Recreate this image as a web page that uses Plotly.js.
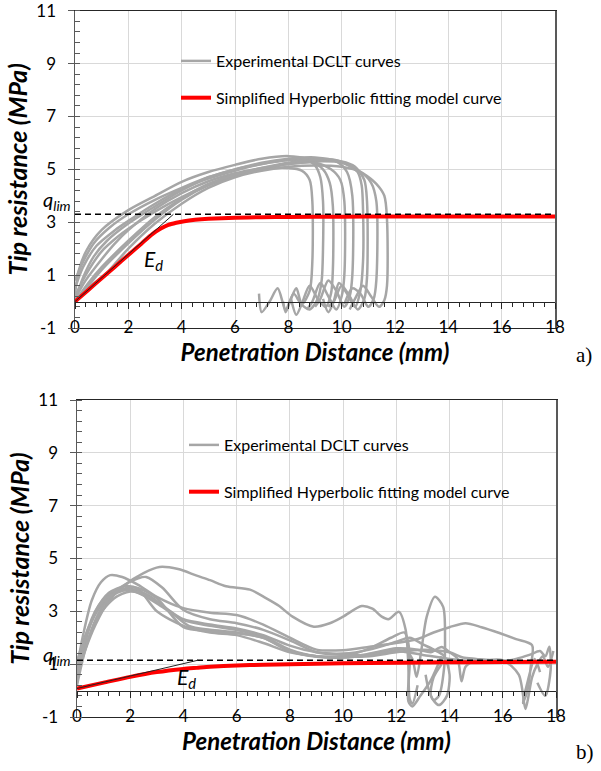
<!DOCTYPE html>
<html><head><meta charset="utf-8">
<script src="https://cdn.plot.ly/plotly-3.0.1.min.js"></script>
<style>html,body{margin:0;padding:0;background:#fff}#chart{width:601px;height:771px}</style>
</head><body><div id="chart"></div>
<script>
// ---------- tick values / labels ----------
const xTicks = [0, 2, 4, 6, 8, 10, 12, 14, 16, 18];
const yTicks = [-1, 1, 3, 5, 7, 9, 11];
const legendNames = ["Experimental DCLT curves", "Simplified Hyperbolic fitting model curve"];
const panelLabels = ["a)", "b)"];
const xTitle = "Penetration Distance (mm)";
const yTitle = "Tip resistance (MPa)";

// ---------- panel a : experimental curves ----------
const a1x = [0, 0.15, 0.44, 1.0, 2.0, 3.0, 4.0, 5.0, 6.0, 7.0, 8.0, 8.6, 9.0, 9.2, 9.3, 9.3, 9.25, 9.1, 8.8, 8.5, 8.3, 8.1, 7.9, 7.8];
const a1y = [0.3, 1.2, 1.95, 2.71, 3.46, 4.0, 4.53, 4.9, 5.17, 5.4, 5.5, 5.42, 5.15, 4.7, 3.8, 2.0, 0.8, 0.1, -0.3, -0.1, 0.5, 0.1, -0.4, 0.0];
const a2x = [0, 0.3, 0.7, 1.2, 2, 3, 4, 5, 6, 7, 8, 9, 9.8, 10.2, 10.6, 10.75, 10.8, 10.8, 10.7, 10.5, 10.2, 9.9, 9.7, 9.5, 9.3];
const a2y = [0, 0.9, 1.7, 2.3, 2.95, 3.6, 4.2, 4.7, 5.0, 5.2, 5.35, 5.4, 5.35, 5.2, 4.9, 4.4, 3.5, 1.5, 0.4, -0.2, 0.3, 0.7, 0.0, -0.4, 0.1];
const a3x = [0, 0.4, 1, 1.5, 2, 3, 4, 5, 6, 7, 8, 9, 10, 10.8, 11.3, 11.6, 11.7, 11.7, 11.6, 11.4, 11.1, 10.8, 10.5, 10.3];
const a3y = [0.1, 0.8, 1.6, 2.2, 2.7, 3.5, 4.1, 4.55, 4.85, 5.05, 5.2, 5.3, 5.25, 4.85, 4.45, 4.0, 3.1, 0.6, 0.05, -0.2, 0.2, 0.6, 0.1, -0.3];
const a4x = [0, 0.5, 1, 2, 3, 4, 5, 6, 7, 8, 8.5, 8.8, 8.9, 8.9, 8.8, 8.5, 8.2, 7.9, 7.6, 7.3, 7.0, 6.9];
const a4y = [0, 0.6, 1.2, 2.2, 3.1, 3.85, 4.4, 4.8, 5.0, 5.05, 4.95, 4.6, 3.8, 1.5, 0.4, -0.1, 0.3, -0.3, 0.5, 0.0, -0.4, 0.3];
const a5x = [0, 0.3, 0.8, 1.5, 2, 3, 4, 5, 6, 7, 8, 8.8, 9.3, 9.55, 9.67, 9.67, 9.6, 9.4, 9.1, 8.8, 8.5, 8.3, 8.1];
const a5y = [0.5, 1.3, 2.1, 2.7, 3.05, 3.7, 4.25, 4.65, 4.95, 5.2, 5.35, 5.3, 5.0, 4.5, 3.6, 1.2, 0.3, -0.2, 0.1, 0.6, -0.1, -0.5, 0.1];
const a6x = [0, 0.4, 1, 1.6, 2, 3, 4, 5, 6, 7, 8, 9, 9.6, 9.95, 10.1, 10.1, 10.0, 9.8, 9.5, 9.2, 8.9, 8.7];
const a6y = [0.2, 1.0, 1.9, 2.45, 2.75, 3.4, 3.95, 4.4, 4.75, 5.0, 5.2, 5.25, 5.0, 4.6, 3.8, 1.0, 0.2, -0.3, 0.2, 0.7, 0.0, -0.3];
const a7x = [0, 0.5, 1, 2, 3, 4, 5, 6, 7, 8, 9, 10, 10.5, 10.85, 10.95, 10.95, 10.85, 10.6, 10.3, 10.0, 9.7, 9.5];
const a7y = [0, 0.7, 1.3, 2.3, 3.2, 3.9, 4.45, 4.8, 5.05, 5.25, 5.35, 5.3, 5.1, 4.6, 3.8, 0.9, 0.1, -0.3, 0.2, 0.6, 0.0, -0.2];
const a8x = [0, 0.3, 0.7, 1.3, 2, 3, 4, 5, 6, 7, 8, 9, 9.8, 10.2, 10.4, 10.4, 10.3, 10.1, 9.8, 9.5, 9.2, 9.0];
const a8y = [0.8, 1.5, 2.2, 2.8, 3.3, 3.85, 4.3, 4.7, 5.0, 5.25, 5.4, 5.45, 5.3, 4.9, 4.0, 1.0, 0.2, -0.2, 0.4, 0.8, 0.1, -0.2];
const a9x = [0, 0.6, 1.2, 2, 3, 4, 5, 6, 7, 8, 9, 10, 10.7, 11.1, 11.3, 11.3, 11.2, 11.0, 10.7, 10.4, 10.1];
const a9y = [0, 0.6, 1.1, 2.0, 2.95, 3.7, 4.3, 4.7, 4.95, 5.1, 5.15, 5.1, 4.9, 4.5, 3.8, 0.8, 0.1, -0.2, 0.3, 0.5, -0.1];

// panel a : hyperbolic fit, limit resistance, tangent Ed
const aFitX = [0, 0.5, 1, 1.5, 2, 2.5, 2.9, 3.2, 3.5, 3.8, 4.1, 4.5, 5, 6, 7, 8, 10, 12, 14, 16, 18];
const aFitY = [0, 0.44, 0.88, 1.32, 1.76, 2.2, 2.55, 2.75, 2.9, 2.98, 3.04, 3.09, 3.13, 3.17, 3.19, 3.2, 3.21, 3.22, 3.22, 3.22, 3.22];
const aQlimX = [0, 18];
const aQlimY = [3.3, 3.3];
const aEdX = [0, 3.69];
const aEdY = [0, 3.3];

// ---------- panel b : experimental curves ----------
const b1x = [0, 0.3, 0.7, 1.2, 1.8, 2.5, 3.1, 3.8, 4.5, 5.0, 5.6, 6.5, 7.1, 7.6, 8.1, 8.9, 9.5, 10.0, 10.7, 11.1, 11.45, 11.7, 12.1, 12.35, 12.45, 12.5, 12.6, 12.8];
const b1y = [0.5, 1.5, 2.5, 3.4, 4.0, 4.45, 4.68, 4.6, 4.35, 4.18, 3.95, 3.82, 3.5, 3.2, 2.8, 2.42, 2.55, 2.8, 3.2, 3.1, 2.8, 2.7, 2.98, 2.3, 1.0, -0.3, -0.5, 0.2];
const b2x = [0, 0.25, 0.55, 0.9, 1.25, 1.7, 2.3, 3, 4, 5, 6, 7, 8, 9, 10, 11, 12, 12.8, 13.4, 14, 14.6, 15.2, 15.9, 16.5, 17.1, 17.05, 16.9, 16.75, 16.9, 17.2, 17.4];
const b2y = [0.9, 2.2, 3.4, 4.1, 4.37, 4.3, 4.0, 3.55, 3.12, 2.95, 2.86, 2.5, 2.0, 1.55, 1.53, 1.66, 1.8, 1.95, 2.2, 2.4, 2.55, 2.4, 2.17, 1.95, 1.72, 0.9, -0.1, -0.47, 0.2, 1.2, 0.7];
const b3x = [0, 0.3, 0.7, 1.2, 1.8, 2.3, 3, 4, 5, 6, 7, 8, 9, 10, 11, 11.8, 12.3, 12.6, 12.76, 12.95, 13.14, 13.45, 13.76, 13.83, 13.8, 13.6, 13.4, 13.2, 13.1];
const b3y = [0.3, 1.8, 3.0, 3.7, 3.95, 3.85, 3.0, 2.45, 2.2, 2.1, 1.8, 1.45, 1.3, 1.25, 1.35, 1.5, 1.55, 1.2, 0.52, 1.6, 2.79, 3.55, 3.17, 1.9, 0.9, -0.2, -0.36, 0.1, 0.6];
const b4x = [0, 0.3, 0.8, 1.3, 2, 2.7, 3.5, 4, 5, 6, 7, 8, 9, 10, 11, 12, 12.5, 13, 13.5, 13.8, 14.0, 13.9, 13.6, 13.3, 13.4, 13.7];
const b4y = [0.6, 2.0, 3.2, 3.7, 3.85, 3.6, 3.0, 2.7, 2.5, 2.35, 2.1, 1.7, 1.45, 1.4, 1.55, 1.85, 2.0, 1.75, 1.5, 1.3, 0.6, -0.2, -0.55, -0.2, 0.5, 1.0];
const b5x = [0, 0.4, 0.9, 1.5, 2, 2.6, 3.3, 4, 5, 6, 7, 8, 9, 10, 11, 11.8, 12.3, 12.45, 12.5, 12.45, 12.6, 12.9, 13.3, 13.7];
const b5y = [1.1, 2.3, 3.2, 3.7, 3.8, 3.55, 3.1, 2.67, 2.45, 2.29, 2.05, 1.55, 1.3, 1.3, 1.6, 2.0, 2.2, 1.8, 1.0, -0.4, -0.6, -0.2, 0.4, 1.3];
const b6x = [0, 0.3, 0.8, 1.4, 2, 2.7, 3.5, 4.2, 5, 6, 7, 8, 9, 10, 11, 12, 13, 14, 14.5, 15, 15.5, 16, 16.5, 17, 17.4, 17.6, 17.75, 17.8, 17.6, 17.3];
const b6y = [0.4, 1.6, 2.8, 3.5, 3.75, 3.55, 3.0, 2.45, 2.3, 2.2, 2.0, 1.5, 1.3, 1.28, 1.3, 1.45, 1.55, 1.45, 1.25, 1.2, 1.15, 1.12, 1.2, 1.35, 1.5, 1.3, 1.66, 0.8, -0.2, 0.3];
const b7x = [0, 0.5, 1, 1.6, 2.2, 3, 4, 5, 6, 7, 8, 9, 10, 11, 12, 12.8, 13.3, 13.7, 14, 14.3, 14.45, 14.6, 14.9, 15.2];
const b7y = [0.7, 2.5, 3.4, 3.8, 3.9, 3.5, 2.4, 2.25, 2.17, 2.0, 1.5, 1.28, 1.25, 1.4, 1.6, 1.55, 1.45, 1.65, 1.45, 1.2, 0.35, 0.9, 1.1, 1.05];
const b8x = [0, 0.3, 0.7, 1.2, 1.7, 2.3, 2.6, 3.2, 4, 5, 6, 7, 8, 9, 10, 11, 12, 13, 14, 15, 16, 16.6, 16.85, 16.95, 17.1, 17.3, 17.5, 17.7, 17.9];
const b8y = [0.2, 1.5, 2.7, 3.5, 3.95, 4.25, 4.3, 3.9, 3.05, 2.7, 2.55, 2.3, 1.9, 1.45, 1.35, 1.35, 1.5, 1.35, 1.2, 1.12, 1.15, 0.6, -0.7, -0.3, 0.5, 1.0, 1.3, 0.9, 1.5];

// panel b : hyperbolic fit, limit resistance, tangent Ed
const bFitX = [0, 1, 2, 3, 4, 4.5, 5, 6, 7, 8, 10, 12, 14, 16, 18];
const bFitY = [0.08, 0.3, 0.52, 0.7, 0.82, 0.86, 0.9, 0.95, 0.98, 1.0, 1.03, 1.05, 1.07, 1.08, 1.09];
const bQlimX = [0, 18];
const bQlimY = [1.15, 1.15];
const bEdX = [0, 4.55];
const bEdY = [0.08, 1.15];

// ---------- build ----------
const FONT = 'Lato, "Open Sans", sans-serif';
const GRAY = '#A6A6A6';
const aCurves = [[a1x,a1y],[a2x,a2y],[a3x,a3y],[a4x,a4y],[a5x,a5y],[a6x,a6y],[a7x,a7y],[a8x,a8y],[a9x,a9y]];
const bCurves = [[b1x,b1y],[b2x,b2y],[b3x,b3y],[b4x,b4y],[b5x,b5y],[b6x,b6y],[b7x,b7y],[b8x,b8y]];

function panel(curves, fitX, fitY, qX, qY, edX, edY, xa, ya, leg) {
  const tr = [];
  curves.forEach((c, i) => tr.push({
    x: c[0], y: c[1], xaxis: xa, yaxis: ya, type: 'scatter', mode: 'lines',
    line: {color: GRAY, width: 2.5, shape: 'spline', smoothing: 0.8},
    name: legendNames[0], legend: leg, legendgroup: leg + 'g', showlegend: i === 0, hoverinfo: 'skip'
  }));
  tr.push({x: fitX, y: fitY, xaxis: xa, yaxis: ya, mode: 'lines',
    line: {color: '#FF0000', width: 4, shape: 'spline', smoothing: 0.6},
    name: legendNames[1], legend: leg, legendgroup: leg + 'r', showlegend: true, hoverinfo: 'skip'});
  tr.push({x: qX, y: qY, xaxis: xa, yaxis: ya, mode: 'lines',
    line: {color: '#000', width: 1.5, dash: '6px,4px'}, showlegend: false, hoverinfo: 'skip'});
  tr.push({x: edX, y: edY, xaxis: xa, yaxis: ya, mode: 'lines',
    line: {color: '#222', width: 1}, showlegend: false, hoverinfo: 'skip'});
  return tr;
}

const data = [].concat(
  panel(aCurves, aFitX, aFitY, aQlimX, aQlimY, aEdX, aEdY, 'x', 'y', 'legend'),
  panel(bCurves, bFitX, bFitY, bQlimX, bQlimY, bEdX, bEdY, 'x2', 'y2', 'legend2'),
  [{x: [null], y: [null], xaxis: 'x3', yaxis: 'y', showlegend: false, hoverinfo: 'skip'},
   {x: [null], y: [null], xaxis: 'x4', yaxis: 'y2', showlegend: false, hoverinfo: 'skip'}]
);

const W = 601, H = 771;
const tickFont = {family: FONT, size: 17, color: '#000'};
const xTitleFont = {family: FONT, size: 24, color: '#000'};
const yTitleFont = {family: FONT, size: 25, color: '#000'};

function xMain(domain, anchor) {
  return {domain: domain, anchor: anchor, range: [0, 18], tickvals: xTicks, ticktext: xTicks.map(String),
    ticks: '', showline: true, linecolor: '#262626', linewidth: 1, mirror: true,
    showgrid: true, gridcolor: '#D9D9D9', gridwidth: 1, zeroline: false,
    tickfont: tickFont, ticklabelstandoff: -16, ticklabeloverflow: 'allow',
    title: {text: '<b><i>' + xTitle + '</i></b>', font: xTitleFont, standoff: 4}};
}
function xZero(over, pos) {
  return {overlaying: over, anchor: 'free', position: pos, range: [0, 18], tickvals: xTicks,
    ticks: 'outside', ticklen: 6, tickcolor: '#262626', tickwidth: 1, showticklabels: false,
    showline: true, linecolor: '#262626', linewidth: 1, showgrid: false, zeroline: false,
    minor: {ticks: 'outside', ticklen: 4, dtick: 0.4, tick0: 0, tickcolor: '#262626', showgrid: false}};
}
function yMain(domain, anchor) {
  return {domain: domain, anchor: anchor, range: [-1, 11], tickvals: yTicks, ticktext: yTicks.map(String),
    ticks: 'outside', ticklen: 6, tickcolor: '#595959', showline: true, linecolor: '#595959', linewidth: 1.5,
    mirror: true, showgrid: true, gridcolor: '#D9D9D9', zeroline: false, tickfont: tickFont, ticklabelstandoff: 8,
    ticklabeloverflow: 'allow',
    minor: {ticks: 'inside', ticklen: 5, dtick: 0.4, tick0: -1, tickcolor: '#595959', showgrid: false},
    title: {text: '<b><i>' + yTitle + '</i></b>', font: yTitleFont, standoff: 1}};
}

const aXd = [75 / W, 555 / W], aYd = [1 - 328 / H, 1 - 10.7 / H];
const bXd = [77 / W, 556 / W], bYd = [1 - 717 / H, 1 - 400 / H];
const aZero = aYd[0] + (aYd[1] - aYd[0]) / 12;
const bZero = bYd[0] + (bYd[1] - bYd[0]) / 12;

function ann(text, px, py, size, fam) {
  return {text: text, xref: 'paper', yref: 'paper', x: px / W, y: 1 - py / H, showarrow: false,
    xanchor: 'center', yanchor: 'middle', font: {family: fam || FONT, size: size, color: '#000'}};
}

const layout = {
  width: W, height: H, margin: {l: 0, r: 0, t: 0, b: 0},
  paper_bgcolor: '#fff', plot_bgcolor: '#fff',
  xaxis: xMain(aXd, 'y'), yaxis: yMain(aYd, 'x'),
  xaxis2: xMain(bXd, 'y2'), yaxis2: yMain(bYd, 'x2'),
  xaxis3: xZero('x', aZero), xaxis4: xZero('x2', bZero),
  legend: {x: 176 / W, y: 1 - 44 / H, xanchor: 'left', yanchor: 'top', bgcolor: 'rgba(0,0,0,0)',
    font: {family: FONT, size: 16, color: '#000'}, traceorder: 'grouped', tracegroupgap: 13, itemwidth: 30},
  legend2: {x: 184 / W, y: 1 - 428 / H, xanchor: 'left', yanchor: 'top', bgcolor: 'rgba(0,0,0,0)',
    font: {family: FONT, size: 16, color: '#000'}, traceorder: 'grouped', tracegroupgap: 23, itemwidth: 30},
  annotations: [
    ann('<i>q<sub>lim</sub></i>', 57, 201, 20),
    ann('<i>E<sub>d</sub></i>', 153, 260, 21),
    ann('<i>q<sub>lim</sub></i>', 57, 655, 20),
    ann('<i>E<sub>d</sub></i>', 186, 678, 21),
    ann(panelLabels[0], 584, 355, 21, '"Liberation Serif", "Times New Roman", serif'),
    ann(panelLabels[1], 585, 752, 21, '"Liberation Serif", "Times New Roman", serif')
  ]
};

Plotly.newPlot('chart', data, layout, {staticPlot: true, displayModeBar: false});
</script></body></html>
